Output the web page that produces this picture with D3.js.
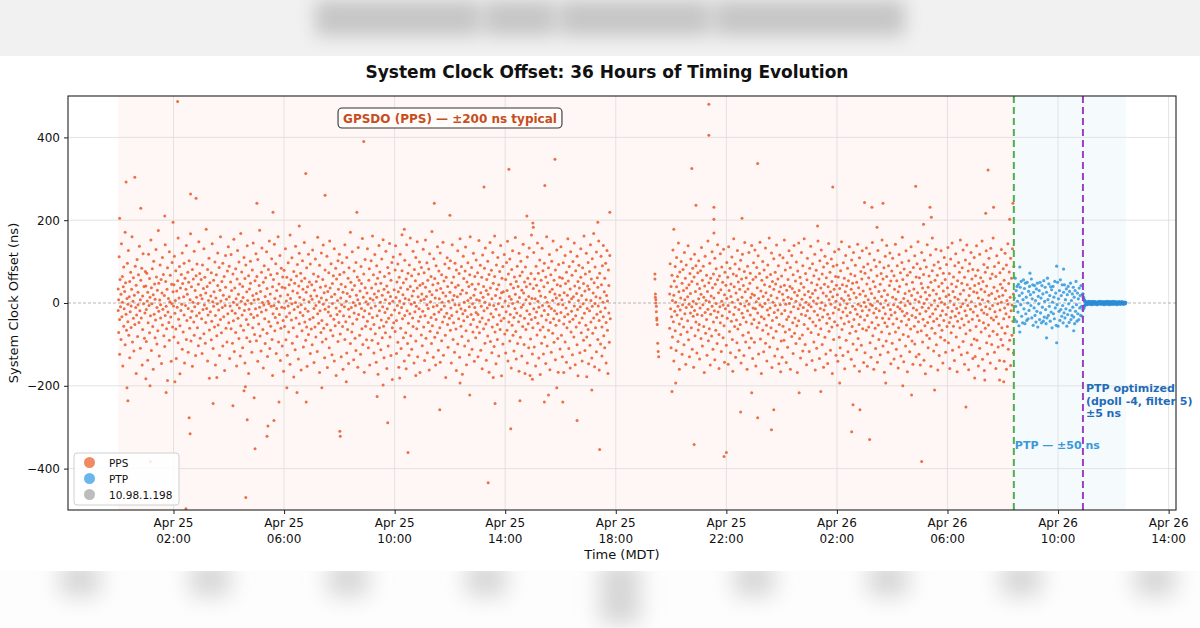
<!DOCTYPE html>
<html><head><meta charset="utf-8">
<script src="https://cdn.jsdelivr.net/npm/d3@7"></script>
<style>body{margin:0;background:#fff;}svg{display:block;font-family:"DejaVu Sans",sans-serif;}</style>
</head><body><svg id="c" width="1200" height="628"></svg>
<script>
const chartTitle = "System Clock Offset: 36 Hours of Timing Evolution";
const yLabel = "System Clock Offset (ns)";
const xLabel = "Time (MDT)";
// [minutes since Apr 25 00:00 MDT, offset ns]
const ppsCoreA = [
[0,-18],[0,34],[1,-71],[1,8],[2,112],[3,-40],[3,-124],[4,57],[5,-9],[6,21],[6,-88],[7,143],[8,-33],[9,64],[9,2],[10,-152],[11,39],[12,-56],[12,87],[13,-14],[14,28],[15,-101],[15,171],[16,49],[17,-27],[18,-66],[19,11],[20,96],[21,-45],[21,-3],[22,127],[23,-78],[24,15],[25,-132],[25,52],[26,-21],[27,74],[28,-7],[28,-59],[29,33],[30,160],[31,-94],[32,4],[33,-37],[33,61],[34,-116],[35,19],[36,-52],[37,89],[38,-11],[39,-170],[39,43],[40,-29],[41,105],[42,-81],[43,26],[43,-4],[44,68],[45,-47],[46,137],[47,-19],[48,-109],[48,8],[49,55],[50,-36],[51,84],[52,-150],[53,17],[53,-64],[54,119],[55,-2],[56,40],[57,-85],[58,-24],[59,76],
[60,41],[61,-16],[61,-93],[62,72],[63,5],[64,-138],[64,26],[65,-48],[66,118],[67,-6],[68,59],[68,-72],[69,14],[70,-31],[71,152],[72,-115],[72,37],[73,-2],[74,83],[75,-57],[76,20],[76,-160],[77,101],[78,-27],[79,46],[80,-84],[80,9],[81,-41],[82,129],[83,63],[84,-11],[84,-99],[85,31],[86,-67],[87,175],[88,-20],[88,48],[89,-128],[90,7],[91,92],[92,-36],[92,-4],[93,57],[94,-146],[95,24],[96,-53],[96,110],[97,-15],[98,69],[99,-79],[100,18],[101,-105],[102,-30],[102,141],[103,52],[104,-8],[105,-62],[106,33],[107,-187],[107,85],[108,-22],[109,11],[110,-47],[111,124],[111,-90],[112,3],[113,67],[114,-34],[115,-141],[116,45],[116,-1],[117,98],[118,-58],[119,27],
[120,-7],[121,44],[121,-82],[122,113],[123,-25],[124,6],[125,-63],[125,78],[126,-134],[127,29],[128,-10],[129,54],[130,-96],[130,157],[131,-39],[132,12],[133,88],[134,-55],[134,-171],[135,36],[136,-18],[137,69],[138,-3],[139,-112],[139,121],[140,47],[141,-70],[142,15],[143,-29],[143,96],[144,-145],[145,60],[146,-6],[147,33],[148,-88],[148,139],[149,-42],[150,21],[151,74],[152,-119],[152,-13],[153,50],[154,102],[155,-61],[156,8],[157,-35],[157,167],[158,-92],[159,39],[160,-20],[161,81],[161,-153],[162,2],[163,58],[164,-46],[165,125],[165,-78],[166,-9],[167,30],[168,-127],[169,66],[170,-31],[170,14],[171,94],[172,-60],[173,-1],[174,45],[174,-103],[175,148],[176,-24],[177,71],[178,-85],[179,19],
[180,57],[181,-38],[182,-122],[182,10],[183,92],[184,-16],[185,35],[186,-74],[186,131],[187,-5],[188,62],[189,-97],[190,24],[190,-47],[191,178],[192,-13],[193,40],[194,-140],[194,81],[195,-29],[196,6],[197,108],[198,-65],[198,-182],[199,49],[200,-21],[201,17],[202,-89],[202,73],[203,-44],[204,143],[205,3],[206,-110],[207,55],[207,-8],[208,27],[209,-58],[210,99],[211,-150],[211,-30],[212,12],[213,68],[214,-79],[215,-2],[216,121],[216,42],[217,-53],[218,-17],[219,86],[220,-127],[221,31],[222,-40],[222,160],[223,5],[224,-72],[225,52],[226,-11],[227,-104],[227,96],[228,19],[229,-33],[230,64],[231,-163],[232,-6],[233,115],[233,38],[234,-61],[235,9],[236,-94],[237,77],[238,-26],[239,136],
[240,-48],[241,15],[241,89],[242,-134],[243,-7],[244,51],[245,-62],[245,117],[246,30],[247,-19],[248,-97],[249,70],[250,2],[250,-43],[251,154],[252,-117],[253,36],[254,-25],[255,83],[255,-71],[256,10],[257,-152],[258,58],[258,-4],[259,127],[260,-37],[261,21],[262,-86],[262,99],[263,-12],[264,46],[265,-128],[266,168],[266,-55],[267,4],[268,75],[269,-29],[270,-108],[270,40],[271,13],[272,-66],[273,110],[274,-18],[275,59],[275,-145],[276,-3],[277,92],[278,-40],[279,27],[279,-84],[280,138],[281,6],[282,-52],[283,66],[283,-170],[284,-15],[285,34],[286,-93],[287,101],[287,48],[288,-27],[289,-1],[290,-119],[291,80],[292,18],[292,-60],[293,145],[294,-35],[295,7],[296,-76],[297,54],[298,-14],[299,119],
[300,-91],[300,23],[301,64],[302,-30],[303,-141],[303,105],[304,9],[305,-51],[306,42],[307,-10],[307,176],[308,-80],[309,28],[310,-116],[311,74],[311,-22],[312,133],[313,1],[314,-64],[315,50],[315,-157],[316,-5],[317,90],[318,-38],[319,16],[319,-98],[320,61],[321,-17],[322,124],[323,-73],[323,35],[324,-129],[325,4],[326,81],[327,-45],[327,-2],[328,150],[329,-110],[330,22],[331,-56],[331,68],[332,-8],[333,107],[334,-88],[335,39],[335,-175],[336,-26],[337,57],[338,-6],[339,142],[340,-67],[340,11],[341,-35],[342,95],[343,-122],[344,30],[344,-13],[345,71],[346,-48],[347,160],[348,-94],[348,3],[349,46],[350,-28],[351,115],[352,-139],[352,17],[353,-61],[354,84],[355,-10],[356,-104],[356,38],[357,63],[358,-42],[359,-165],
[360,79],[361,-12],[361,-57],[362,36],[363,131],[364,-89],[365,5],[365,-33],[366,62],[367,-126],[368,20],[369,97],[369,-7],[370,-70],[371,44],[372,-24],[373,164],[373,-148],[374,11],[375,56],[376,-41],[377,-2],[377,109],[378,-97],[379,29],[380,-60],[381,76],[381,-179],[382,-16],[383,48],[384,-113],[385,137],[385,1],[386,-36],[387,65],[388,-81],[389,24],[389,93],[390,-9],[391,-135],[392,41],[393,-50],[393,120],[394,14],[395,-23],[396,72],[397,-162],[397,-4],[398,53],[399,-67],[400,102],[401,-30],[401,33],[402,-106],[403,8],[404,146],[405,-46],[405,60],[406,-14],[407,-90],[408,26],[409,85],[409,-58],[410,-153],[411,39],[412,-20],[413,118],[413,-76],[414,3],[415,51],[416,-39],[417,-122],[417,94],[418,17],[419,-63],
[420,44],[421,-101],[421,9],[422,128],[423,-35],[424,70],[425,-13],[425,-144],[426,31],[427,-58],[428,106],[429,-6],[429,-82],[430,52],[431,17],[432,-117],[433,159],[433,-26],[434,64],[435,-49],[436,3],[437,91],[437,-168],[438,-19],[439,38],[440,-71],[441,121],[441,12],[442,-42],[443,-94],[444,57],[445,-3],[445,140],[446,-61],[447,25],[448,-132],[449,80],[449,-15],[450,41],[451,-87],[452,7],[453,113],[453,-52],[454,-156],[455,28],[456,-22],[457,73],[457,-9],[458,-108],[459,150],[460,36],[461,-66],[461,-31],[462,95],[463,15],[464,-125],[465,47],[465,-1],[466,-79],[467,66],[468,-39],[469,131],[469,-140],[470,21],[471,-55],[472,84],[473,-12],[473,-175],[474,58],[475,-28],[476,6],[477,102],[477,-93],[478,33],[479,-47],
[480,118],[481,-20],[481,69],[482,-75],[483,12],[484,-130],[484,45],[485,-4],[486,97],[487,-57],[488,26],[488,-160],[489,-31],[490,74],[491,-9],[492,141],[492,-88],[493,39],[494,-45],[495,4],[496,110],[496,-121],[497,23],[498,-64],[499,60],[500,-15],[500,-146],[501,85],[502,-33],[503,16],[504,-98],[504,171],[505,50],[506,-11],[507,-70],[508,32],[508,124],[509,-50],[510,1],[511,-137],[512,77],[512,-24],[513,42],[514,-85],[515,-6],[516,98],[516,-115],[517,19],[518,-39],[519,63],[520,-155],[520,8],[521,134],[522,-28],[523,55],[524,-78],[524,-2],[525,29],[526,-124],[527,88],[528,-13],[528,47],[529,-62],[530,156],[531,-100],[532,14],[532,-34],[533,70],[534,-167],[535,-19],[536,37],[536,105],[537,-56],[538,3],[539,-89],
[540,24],[541,-44],[541,131],[542,-3],[543,-108],[544,55],[545,-26],[545,83],[546,-150],[547,11],[548,-63],[549,102],[549,-12],[550,36],[551,-90],[552,162],[552,-35],[553,7],[554,68],[555,-121],[555,-52],[556,22],[557,117],[558,-74],[558,-7],[559,46],[560,-143],[561,90],[561,14],[562,-31],[563,60],[564,-98],[564,-172],[565,29],[566,139],[567,-19],[567,-60],[568,75],[569,2],[570,-113],[570,48],[571,-41],[572,106],[573,-84],[573,19],[574,-9],[575,153],[576,-56],[577,33],[577,-132],[578,64],[579,-23],[580,8],[580,-72],[581,125],[582,-46],[583,41],[583,-158],[584,-14],[585,86],[586,-104],[586,26],[587,-37],[588,72],[589,-1],[589,144],[590,-82],[591,16],[592,-127],[592,55],[593,-29],[594,98],[595,-60],[595,-185],[596,4],[597,111],[598,-48],[599,32],
[600,-17],[601,80],[601,-69],[602,138],[603,13],[604,-122],[604,-42],[605,51],[606,-6],[607,94],[607,-95],[608,27],[609,-155],[610,62],[610,-24],[611,5],[612,118],[613,-61],[613,37],[614,-110],[615,-11],[616,78],[616,165],[617,-38],[618,20],[619,-84],[619,49],[620,-2],[621,-140],[622,103],[622,-30],[623,11],[624,-72],[625,58],[625,-159],[626,141],[627,-19],[628,33],[628,-98],[629,72],[630,-49],[631,8],[631,-126],[632,92],[633,-26],[634,40],[634,157],[635,-79],[636,-3],[637,66],[637,-112],[638,17],[639,-36],[640,125],[640,-57],[641,29],[642,-145],[643,81],[643,1],[644,-21],[645,54],[646,-92],[646,110],[647,-8],[648,-62],[649,36],[649,148],[650,-130],[651,15],[652,-44],[652,70],[653,-14],[654,99],[655,-168],[655,43],[656,-33],[657,6],[658,86],[658,-77],[659,22],
[660,-103],[661,47],[661,-20],[662,130],[663,-58],[664,9],[664,73],[665,-139],[666,-31],[667,38],[667,152],[668,-85],[669,16],[670,-4],[670,97],[671,-120],[672,55],[673,-47],[673,-13],[674,82],[675,-162],[676,28],[676,119],[677,-68],[678,3],[679,-35],[679,64],[680,-98],[681,173],[681,20],[682,-55],[683,44],[684,-9],[684,-131],[685,107],[686,-27],[687,59],[687,-83],[688,12],[689,-150],[690,90],[690,-40],[691,31],[692,-6],[693,136],[693,-72],[694,48],[695,-114],[696,-22],[696,77],[697,10],[698,-60],[699,121],[699,-143],[700,35],[701,-16],[702,68],[702,-91],[703,2],[704,-46],[705,147],[705,25],[706,-126],[707,53],[708,-33],[708,-7],[709,94],[710,-78],[711,17],[711,-180],[712,62],[713,-25],[714,109],[715,-52],[715,40],[716,-107],[717,4],[718,84],[719,-37],
[720,26],[721,-66],[721,102],[722,-12],[723,-145],[724,49],[724,-30],[725,141],[726,7],[727,-88],[728,63],[728,-48],[729,18],[730,-119],[731,96],[731,-4],[732,38],[733,-63],[734,-163],[734,80],[735,-21],[736,15],[737,126],[737,-99],[738,43],[739,-38],[740,-5],[740,71],[741,-131],[742,155],[743,22],[744,-56],[744,-14],[745,88],[746,-81],[747,31],[747,-172],[748,-26],[749,113],[750,-43],[750,59],[751,2],[752,-104],[753,77],[753,-18],[754,135],[755,-67],[756,24],[756,-149],[757,51],[758,-33],[759,6],[759,97],[760,-91],[761,40],[762,-9],[762,-125],[763,68],[764,160],[765,-52],[765,12],[766,-28],[767,86],[768,-112],[768,45],[769,-2],[770,-70],[771,120],[771,-40],[772,19],[773,-141],[774,64],[774,-11],[775,33],[776,-84],[777,104],[777,-23],[778,8],[779,-58],
[780,73],[781,-130],[781,-28],[782,46],[783,151],[784,-72],[784,6],[785,-45],[786,91],[787,-114],[787,25],[788,-8],[789,62],[790,-159],[790,-36],[791,116],[792,14],[793,-62],[793,40],[794,-19],[795,84],[796,-97],[796,2],[797,133],[798,-51],[799,30],[799,-138],[800,57],[801,-12],[802,-80],[802,101],[803,21],[804,-41],[805,-167],[805,69],[806,-4],[807,146],[808,-93],[808,36],[809,-26],[810,79],[811,-120],[811,10],[812,-58],[813,122],[814,48],[814,-34],[815,-6],[816,-105],[817,64],[817,162],[818,-70],[819,18],[820,-147],[820,-15],[821,92],[822,33],[823,-52],[823,-88],[824,110],[825,-2],[826,44],[826,-128],[827,-29],[828,76],[829,-64],[829,12],[830,139],[831,-43],[832,25],[832,-176],[833,60],[834,-9],[835,-99],[835,88],[836,27],[837,-37],[838,117],[839,-75],
[840,5],[841,57],[841,-121],[842,-21],[843,98],[844,-66],[844,30],[845,149],[846,-140],[847,-7],[847,70],[848,-46],[849,16],[850,106],[850,-92],[851,-28],[852,45],[853,-157],[853,9],[854,81],[855,-54],[856,-1],[856,126],[857,-78],[858,36],[859,-35],[859,-116],[860,63],[861,-13],[862,158],[862,21],[863,-69],[864,-135],[864,52],[865,-24],[866,89],[867,3],[867,-98],[868,40],[869,-45],[870,120],[870,-165],[871,13],[872,66],[873,-31],[873,-83],[874,101],[875,-10],[876,31],[876,-128],[877,75],[878,-57],[879,-4],[879,142],[880,24],[881,-100],[882,51],[882,-37],[883,-170],[884,87],[885,8],[885,-64],[886,39],[887,-19],[888,111],[888,-145],[889,60],[890,-50],[891,16],[891,-108],[892,133],[893,-27],[894,46],[894,-2],[895,-87],[896,71],[897,-40],[897,164],[898,11],[899,-123],
[900,-60],[901,35],[902,-14],[902,122],[903,-106],[904,58],[905,-35],[905,10],[906,-152],[907,89],[908,-22],[908,43],[909,-77],[910,145],[911,4],[911,-49],[912,72],[913,-133],[913,-10],[914,29],[915,104],[916,-65],[916,-173],[917,17],[918,55],[919,-31],[919,-97],[920,132],[921,-6],[922,78],[922,-58],[923,-123],[924,39],[925,-18],[925,96],[926,-82],[927,14],[928,-146],[928,63],[929,-41],[930,160],[931,2],[931,-104],[932,49],[933,-28],[934,85],[934,-66],[935,-8],[936,117],[937,-161],[937,27],[938,-47],[939,68],[940,-13],[940,-119],[941,101],[942,33],[943,-73],[943,6],[944,150],[945,-38],[946,55],[946,-95],[947,-19],[948,22],[949,-137],[949,80],[950,-54],[951,12],[952,128],[952,-26],[953,44],[954,-86],[955,-3],[955,-167],[956,93],[957,-42],[958,19],[958,62],[959,-111],
[960,41],[961,-23],[961,136],[962,-78],[963,8],[964,-130],[964,60],[965,-4],[966,97],[967,-51],[967,-168],[968,25],[969,-33],[970,115],[970,-94],[971,47],[972,-12],[973,74],[973,-143],[974,-60],[975,19],[976,155],[976,-27],[977,53],[978,-110],[979,3],[979,88],[980,-45],[981,-157],[981,34],[982,124],[983,-70],[984,10],[984,-20],[985,67],[986,-125],[987,-39],[987,100],[988,15],[989,-82],[990,145],[990,-7],[991,41],[992,-149],[993,78],[993,-31],[994,-58],[995,23],[996,113],[996,-101],[997,-16],[998,52],[998,-176],[999,6],[1000,91],[1001,-48],[1001,36],[1002,-120],[1003,-9],[1004,131],[1004,62],[1005,-72],[1006,18],[1007,-36],[1007,-140],[1008,85],[1009,-2],[1010,47],[1010,-90],[1011,162],[1012,-25],[1013,29],[1013,-115],[1014,70],[1015,-54],[1016,8],[1016,120],[1017,-82],[1018,-13],[1019,41],
[1020,98],[1020,-64],[1021,-147],[1022,33],[1023,-19],[1023,76],[1024,-102],[1025,141],[1026,6],[1026,-46],[1027,58],[1028,-133],[1029,-8],[1029,107],[1030,-73],[1031,24],[1032,168],[1032,-36],[1033,49],[1034,-154],[1035,-1],[1035,87],[1036,-60],[1037,15],[1038,123],[1038,-118],[1039,-27],[1040,61],[1041,-88],[1041,38],[1042,-7],[1043,150],[1044,-42],[1044,-162],[1045,72],[1046,12],[1047,-99],[1047,-21],[1048,113],[1049,44],[1050,-58],[1050,-128],[1051,90],[1052,2],[1053,-33],[1053,139],[1054,-79],[1055,27],[1056,-108],[1056,60],[1057,-12],[1058,96],[1059,-145],[1059,-47],[1060,18],[1061,127],[1062,-66],[1062,5],[1063,-170],[1064,80],[1065,-24],[1065,42],[1066,-95],[1067,115],[1068,-38]
];
const ppsGapColumn = [[1165,70],[1165,58],[1166,22],[1166,14],[1167,8],[1167,0],[1168,-8],[1168,-21],[1169,-36],[1169,-41],[1170,-52],[1171,-97],[1172,-117],[1173,-130]];
const ppsCoreB = [
[1197,22],[1197,-61],[1198,95],[1199,-14],[1200,40],[1200,-108],[1201,-33],[1202,67],[1203,6],[1203,-82],[1204,128],[1205,-45],[1206,19],[1206,-140],[1207,53],[1208,-20],[1209,88],[1209,-67],[1210,2],[1211,-115],[1212,39],[1212,110],[1213,-29],[1214,64],[1215,-8],[1215,-93],[1216,145],[1217,27],[1218,-51],[1218,-160],[1219,75],[1220,-17],[1221,12],[1221,-76],[1222,100],[1223,-38],[1224,48],[1224,-124],[1225,-4],[1226,81],[1227,-58],[1227,30],[1228,-101],[1229,122],[1230,8],[1230,-26],[1231,60],[1232,-148],[1233,-11],[1233,92],[1234,36],[1235,-70],[1236,15],[1236,-43],[1237,138],[1238,-89],[1239,44],[1239,-3],[1240,-130],[1241,71],[1242,-24],[1242,23],[1243,106],[1244,-60],[1245,-9],[1245,52],[1246,-112],[1247,84],[1248,-32],[1248,4],[1249,-155],[1250,63],[1251,-18],[1251,118],[1252,-79],[1253,28],[1254,-46],[1254,90],[1255,-2],[1256,-121],[1257,46],[1257,-28],[1258,73],[1259,-65],
[1260,10],[1260,102],[1261,-52],[1262,-135],[1262,35],[1263,-12],[1264,78],[1265,-86],[1265,21],[1266,134],[1267,-30],[1268,55],[1268,-104],[1269,-4],[1270,89],[1271,-57],[1271,14],[1272,-168],[1273,41],[1274,-23],[1274,113],[1275,-73],[1276,6],[1277,67],[1277,-40],[1278,-126],[1279,28],[1280,150],[1280,-15],[1281,-91],[1282,49],[1283,3],[1283,-62],[1284,96],[1285,-150],[1286,-27],[1286,60],[1287,17],[1288,-80],[1289,124],[1289,-8],[1290,37],[1291,-112],[1292,70],[1292,-46],[1293,12],[1294,-19],[1295,108],[1295,-137],[1296,45],[1297,-66],[1298,-1],[1298,83],[1299,-35],[1300,-98],[1301,56],[1301,141],[1302,-22],[1303,25],[1304,-76],[1304,-158],[1305,65],[1306,-9],[1307,119],[1307,-48],[1308,32],[1309,-117],[1310,4],[1310,87],[1311,-31],[1312,50],[1313,-84],[1313,-5],[1314,130],[1315,-55],[1316,20],[1316,-143],[1317,74],[1318,-14],[1319,43],
[1320,-102],[1321,98],[1321,11],[1322,-37],[1323,62],[1324,-148],[1324,-6],[1325,136],[1326,30],[1327,-69],[1327,-21],[1328,84],[1329,-120],[1330,16],[1330,46],[1331,-44],[1332,111],[1333,-88],[1333,2],[1334,-165],[1335,70],[1336,-28],[1336,155],[1337,39],[1338,-57],[1339,-10],[1339,94],[1340,-131],[1341,24],[1342,-41],[1342,66],[1343,-96],[1344,127],[1345,8],[1345,-63],[1346,51],[1347,-16],[1348,-114],[1348,82],[1349,33],[1350,-52],[1351,103],[1351,-2],[1352,-145],[1353,58],[1354,-25],[1354,14],[1355,118],[1356,-78],[1357,42],[1357,-35],[1358,-127],[1359,76],[1360,-7],[1360,146],[1361,27],[1362,-94],[1363,61],[1363,-46],[1364,5],[1365,-160],[1366,89],[1366,-19],[1367,34],[1368,-71],[1369,122],[1369,-3],[1370,-108],[1371,48],[1372,-29],[1372,72],[1373,13],[1374,-85],[1375,139],[1375,-50],[1376,22],[1377,-134],[1378,57],[1378,-12],[1379,97],
[1380,-40],[1381,19],[1381,-95],[1382,128],[1383,-14],[1384,63],[1384,-152],[1385,3],[1386,86],[1387,-59],[1387,37],[1388,-24],[1389,114],[1390,-123],[1390,11],[1391,-48],[1392,71],[1393,-5],[1393,147],[1394,-87],[1395,29],[1396,-170],[1396,-33],[1397,55],[1398,-9],[1399,100],[1399,-66],[1400,16],[1401,-118],[1402,80],[1402,-38],[1403,44],[1404,-1],[1405,133],[1405,-97],[1406,25],[1407,-54],[1408,62],[1408,-140],[1409,-17],[1410,92],[1411,8],[1411,-75],[1412,-29],[1413,157],[1414,40],[1414,-106],[1415,-12],[1416,69],[1417,-60],[1417,18],[1418,121],[1419,-156],[1420,-42],[1420,52],[1421,2],[1422,-84],[1423,107],[1423,33],[1424,-23],[1425,-128],[1426,74],[1426,-6],[1427,46],[1428,-68],[1429,140],[1429,-35],[1430,12],[1431,-111],[1432,58],[1432,-17],[1433,90],[1434,-147],[1435,27],[1435,-52],[1436,116],[1437,-4],[1438,39],[1439,-92],
[1440,65],[1440,-26],[1441,-131],[1442,21],[1443,109],[1443,-56],[1444,7],[1445,-90],[1446,43],[1446,152],[1447,-18],[1448,-70],[1448,80],[1449,-3],[1450,-144],[1451,31],[1451,-40],[1452,97],[1453,-107],[1454,14],[1454,57],[1455,-33],[1456,126],[1457,-64],[1457,-1],[1458,40],[1459,-160],[1459,86],[1460,-22],[1461,10],[1462,-81],[1462,115],[1463,35],[1464,-48],[1465,-122],[1465,68],[1466,-9],[1467,139],[1468,-73],[1468,26],[1469,-36],[1470,53],[1471,-98],[1471,4],[1472,99],[1473,-55],[1474,18],[1474,-168],[1475,77],[1476,-14],[1477,145],[1477,-43],[1478,30],[1479,-86],[1480,62],[1480,-5],[1481,-133],[1482,47],[1483,-27],[1483,122],[1484,9],[1485,-77],[1486,90],[1486,-116],[1487,-11],[1488,38],[1489,-52],[1489,155],[1490,20],[1491,-100],[1492,71],[1492,-30],[1493,2],[1494,-149],[1495,56],[1496,-19],[1496,108],[1497,-62],[1498,28],[1499,-4],
[1500,-117],[1501,84],[1501,-37],[1502,14],[1503,137],[1504,-71],[1504,-9],[1505,49],[1506,-139],[1507,23],[1507,95],[1508,-46],[1509,5],[1510,-94],[1510,66],[1511,-20],[1512,118],[1513,-162],[1513,31],[1514,-55],[1515,79],[1516,-2],[1516,-109],[1517,44],[1518,-29],[1519,150],[1519,12],[1520,-76],[1521,58],[1522,-41],[1522,-134],[1523,102],[1524,-13],[1525,36],[1525,-62],[1526,128],[1527,1],[1528,-100],[1528,70],[1529,-34],[1530,24],[1531,-155],[1531,87],[1532,-17],[1533,45],[1534,-83],[1534,113],[1535,-6],[1536,-123],[1537,61],[1537,17],[1538,-49],[1539,96],[1540,-27],[1540,-146],[1541,39],[1542,144],[1543,-68],[1543,8],[1544,-37],[1545,74],[1546,-114],[1546,27],[1547,-3],[1548,106],[1549,-58],[1549,52],[1550,-170],[1551,15],[1552,-24],[1552,89],[1553,-88],[1554,33],[1555,124],[1555,-45],[1556,-11],[1557,64],[1558,-126],[1558,4],[1559,43],
[1560,92],[1561,-54],[1561,20],[1562,-141],[1563,63],[1564,-16],[1564,130],[1565,-83],[1566,35],[1567,-4],[1567,-108],[1568,78],[1569,-36],[1570,11],[1570,148],[1571,-64],[1572,44],[1573,-127],[1573,-22],[1574,97],[1575,6],[1576,-50],[1576,60],[1577,-159],[1578,27],[1579,-12],[1579,115],[1580,-90],[1581,41],[1582,-31],[1582,-2],[1583,84],[1584,-118],[1585,54],[1585,18],[1586,-45],[1587,136],[1588,-73],[1588,9],[1589,-23],[1590,70],[1591,-136],[1591,33],[1592,104],[1593,-57],[1594,-8],[1594,48],[1595,-99],[1596,122],[1597,24],[1597,-40],[1598,-152],[1599,66],[1600,-15],[1600,91],[1601,-68],[1602,13],[1603,-113],[1603,50],[1604,-27],[1605,142],[1606,-3],[1606,-86],[1607,37],[1608,-52],[1609,109],[1609,-165],[1610,21],[1611,-33],[1612,76],[1612,-7],[1613,-102],[1614,58],[1615,-19],[1615,126],[1616,-62],[1617,29],[1618,-144],[1618,87],[1619,2],
[1620,-41],[1621,72],[1621,-120],[1622,17],[1623,-9],[1624,133],[1624,-66],[1625,46],[1626,-30],[1626,-153],[1627,94],[1628,8],[1629,-58],[1629,61],[1630,-17],[1631,119],[1632,-96],[1632,34],[1633,-3],[1634,-131],[1634,80],[1635,23],[1636,-47],[1637,-6],[1637,146],[1638,-79],[1639,52],[1640,-24],[1640,-160],[1641,104],[1642,12],[1643,-61],[1643,39],[1644,-110],[1645,88],[1645,-13],[1646,-35],[1647,66],[1648,-143],[1648,4],[1649,127],[1650,-53],[1651,28],[1651,-88],[1652,-19],[1653,99],[1654,-125],[1654,45],[1655,-2],[1656,71],[1657,-70],[1657,16],[1658,152],[1659,-37],[1660,-104],[1660,58],[1661,-11],[1662,85],[1663,-167],[1663,30],[1664,-48],[1665,113],[1665,-26],[1666,6],[1667,-92],[1668,64],[1668,139],[1669,-57],[1670,20],[1671,-119],[1671,-5],[1672,90],[1673,-38],[1674,42],[1674,-74],[1675,121],[1676,-16],[1677,-147],[1677,53],[1678,-29],[1679,77],
[1680,-97],[1681,14],[1681,108],[1682,-51],[1683,-4],[1684,66],[1684,-135],[1685,33],[1686,-23],[1687,142],[1687,-70],[1688,9],[1689,-112],[1690,54],[1690,-38],[1691,90],[1692,-9],[1693,-157],[1693,27],[1694,-60],[1695,117],[1696,40],[1696,-89],[1697,-14],[1698,73],[1699,-128],[1699,2],[1700,-44],[1701,98],[1702,-20],[1702,159],[1703,57],[1704,-76],[1705,11],[1705,-142],[1706,82],[1707,-31],[1708,23],[1708,-6],[1709,-104],[1710,126],[1711,-53],[1711,45],[1712,-25],[1713,-166],[1713,67],[1714,5],[1715,-81],[1716,102],[1716,-40],[1717,29],[1718,-118],[1719,74],[1719,-2],[1720,-63],[1721,136],[1722,18],[1723,-92],[1723,-30],[1724,50],[1725,-148],[1726,86],[1726,-12],[1727,34],[1728,-56],[1729,114],[1729,-99],[1730,8],[1731,-35],[1732,63],[1732,-130],[1733,-17],[1734,95],[1735,-70],[1735,25],[1736,148],[1737,-45],[1738,-124],[1738,3],[1739,61],
[1740,-26],[1741,83],[1741,-150],[1742,15],[1743,-67],[1743,47],[1744,122],[1745,-10],[1746,-94],[1746,36],[1747,-39],[1748,69],[1749,-138],[1749,-1],[1750,103],[1751,-55],[1752,26],[1752,-171],[1753,-20],[1754,87],[1755,-78],[1755,9],[1756,141],[1757,-47],[1758,38],[1758,-108],[1759,-12],[1760,65],[1761,-86],[1761,19],[1762,-33],[1763,116],[1764,-153],[1764,50],[1765,-5],[1766,-61],[1767,78],[1767,157],[1768,-26],[1769,31],[1770,-116],[1770,-44],[1771,92],[1772,6],[1773,-73],[1773,55],[1774,-15],[1775,130],[1776,-101],[1776,22],[1777,-38],[1778,67],[1779,-162],[1779,-7],[1780,99],[1781,40],[1782,-54],[1782,-127],[1783,11],[1784,84],[1785,-30],[1785,-83],[1786,126],[1787,2],[1788,-66],[1788,48],[1789,-19],[1790,-145],[1791,72],[1791,29],[1792,-42],[1793,110],[1794,-90],[1794,-3],[1795,57],[1796,-119],[1797,16],[1797,-28],[1798,93],[1799,-57],
[1800,37],[1801,-11],[1801,134],[1802,-96],[1803,20],[1804,-47],[1804,71],[1805,-158],[1806,5],[1807,106],[1807,-35],[1808,-72],[1809,46],[1810,-20],[1810,145],[1811,-114],[1812,28],[1813,-56],[1813,63],[1814,-4],[1815,-139],[1816,90],[1816,14],[1817,-32],[1818,119],[1819,-82],[1819,39],[1820,-13],[1821,-166],[1822,54],[1822,-44],[1823,9],[1824,98],[1825,-106],[1825,-24],[1826,74],[1827,-60],[1828,152],[1828,22],[1829,-9],[1830,-125],[1831,48],[1831,-38],[1832,85],[1833,-2],[1834,-93],[1834,128],[1835,31],[1836,-53],[1837,-148],[1837,62],[1838,-19],[1839,104],[1840,7],[1840,-74],[1841,-30],[1842,140],[1843,-120],[1843,44],[1844,-6],[1845,77],[1846,-161],[1846,-45],[1847,18],[1848,95],[1849,-66],[1849,35],[1850,-15],[1851,122],[1852,-101],[1852,3],[1853,58],[1854,-39],[1855,-134],[1855,81],[1856,-22],[1857,27],[1858,-87],[1858,110],[1859,42],
[1860,-129],[1861,66],[1861,-8],[1862,-57],[1863,138],[1864,25],[1864,-90],[1865,-31],[1866,79],[1867,-152],[1867,12],[1868,47],[1869,-42],[1870,118],[1870,-109],[1871,-3],[1872,61],[1873,-70],[1873,33],[1874,-17],[1875,150],[1876,-136],[1876,8],[1877,52],[1878,-48],[1879,93],[1879,-24],[1880,-163],[1881,27],[1882,74],[1882,-61],[1883,-9],[1884,126],[1885,-96],[1885,41],[1886,-28],[1887,-123],[1887,86],[1888,4],[1889,-53],[1890,108],[1890,19],[1891,-80],[1892,-14],[1893,59],[1893,-145],[1894,132],[1895,-36],[1896,23],[1896,-100],[1897,70],[1898,-6],[1899,-68],[1899,157],[1900,-41],[1901,38],[1902,-119],[1902,88],[1903,-21],[1904,10],[1905,-158],[1905,64],[1906,-33],[1907,114],[1908,-76],[1908,29],[1909,-2],[1910,-106],[1911,97],[1911,-50],[1912,16],[1913,-139],[1914,73],[1914,-17],[1915,45],[1916,-88],[1917,129],[1917,2],[1918,-60],[1919,36],
[1920,-102],[1920,19],[1921,83],[1922,-38],[1923,-141],[1923,55],[1924,-12],[1925,120],[1925,-73],[1926,30],[1927,-26],[1928,-160],[1928,92],[1929,6],[1930,-57],[1931,143],[1931,-3],[1932,-112],[1933,47],[1934,-34],[1934,75],[1935,-90],[1936,14],[1937,-151],[1937,108],[1938,-19],[1939,60],[1940,-78],[1940,-5],[1941,131],[1942,-44],[1943,22],[1943,-121],[1944,88]
];
const ppsSpikes = [
[3,205],[17,292],[19,-205],[21,-236],[36,304],[49,229],[60,-183],[69,-200],[70,-383],[101,210],[104,-216],[119,195],[123,-190],[129,487],[147,-497],[154,-277],[156,-316],[157,263],[169,253],[206,-243],[214,-180],[249,-248],[273,-212],[276,-202],[277,-470],[280,-282],[295,-229],[297,-352],[301,241],[323,-322],[325,-297],[336,219],[338,-284],[349,-239],[366,-205],[388,-216],[393,186],[407,313],[408,-239],[442,-205],[449,260],[481,-310],[482,-322],[495,-190],[518,219],[533,390],[562,-226],[575,-198],[585,-289],[611,-181],[621,178],[622,-227],[629,-361],[646,-175],[686,241],[698,-258],[720,212],[742,-193],[763,-222],[794,280],[803,-434],[814,-180],[818,-243],[848,323],[852,-304],[872,-236],[887,210],[894,-175],[899,-184],[900,193],[901,183],[925,-239],[926,284],[934,-222],[948,347],[952,-205],[965,-239],[996,-284],[1017,-178],[1028,-210],[1041,195],[1045,-354],[1054,505],[1067,219],[1069,505],
[1176,505],[1195,505],[1200,-505],[1202,-214],[1206,178],[1210,-193],[1245,325],[1250,-342],[1254,236],[1282,480],[1282,405],[1293,231],[1293,202],[1293,169],[1315,-371],[1320,-361],[1334,505],[1351,-263],[1354,205],[1361,-505],[1375,-217],[1388,-277],[1388,337],[1391,-505],[1418,-306],[1423,-258],[1438,-166],[1478,-217],[1518,186],[1525,-214],[1551,280],[1566,-193],[1592,-311],[1595,-246],[1610,-258],[1620,243],[1631,-330],[1636,231],[1647,183],[1660,241],[1666,-193],[1703,-200],[1722,-222],[1731,282],[1744,-383],[1748,190],[1762,231],[1765,207],[1772,-210],[1840,-251],[1859,-181],[1881,-186],[1883,217],[1888,321],[1900,231],[1913,-186],[1922,-190],[1935,202],[1942,241]
];
const ptpData = [
[1945,12],[1946,-40],[1947,60],[1948,-8],[1949,30],[1950,-45],[1951,40],[1952,4],[1953,-22],[1954,45],[1955,-55],[1956,18],[1957,87],[1957,-70],[1958,38],[1959,-4],[1960,52],[1961,-32],[1962,24],[1963,-48],[1964,8],[1965,56],[1966,-14],[1967,35],[1968,-50],[1969,48],[1970,-26],[1971,14],[1972,-42],[1973,50],[1974,0],[1975,-38],[1976,28],[1977,-18],[1978,40],[1979,72],[1980,20],[1981,-6],[1982,58],[1983,-36],[1984,10],[1985,44],[1986,-54],[1987,26],[1988,-12],[1989,42],[1990,-30],[1991,6],[1992,-46],[1993,34],[1994,-20],[1995,48],[1996,-58],[1997,16],[1998,-2],[1999,30],[2000,-40],[2001,50],[2002,-24],[2003,12],[2004,-48],[2005,42],[2006,-10],[2007,22],[2008,-44],[2009,54],[2010,-34],[2011,4],[2012,38],[2013,-16],[2014,-50],[2015,-84],[2015,26],[2016,-36],[2017,60],[2018,8],[2019,-30],[2020,46],[2021,-8],[2022,18],[2023,-44],[2024,39],[2025,-22],[2026,32],[2027,-60],[2028,2],[2029,40],[2030,-26],[2031,14],[2032,-38],[2033,52],[2034,-12],[2035,24],[2036,-54],[2037,89],[2037,-96],[2038,-4],[2039,50],[2040,-56],[2041,10],[2042,-20],[2043,30],[2044,-42],[2045,56],[2046,-16],[2047,18],[2048,-32],[2049,44],[2050,-6],[2051,-48],[2052,82],[2052,26],[2053,-24],[2054,44],[2055,-36],[2056,8],[2057,-14],[2058,34],[2059,-56],[2060,20],[2061,-28],[2062,40],[2063,-2],[2064,-47],[2065,28],[2066,-18],[2067,48],[2068,-40],[2069,6],[2070,-30],[2071,22],[2072,-10],[2073,38],[2074,-67],[2074,-34],[2075,14],[2076,-50],[2077,30],[2078,-20],[2079,52],[2080,-4],[2081,-44],[2082,24],[2083,-26],[2084,10],[2085,-40],[2086,36],[2087,-12],[2088,18],[2089,-30],[2090,42],[2091,-8],[2092,-32],[2093,20]
];
const ptpOptData = [
[2094,22],[2094,-16],[2095,14],[2095,-9],[2096,9],[2096,-12],[2097,6],[2097,-7],[2098,4],[2099,-5],[2100,3],[2101,-3],[2102,2],[2103,-4],[2104,1],[2105,3],[2106,-2],[2107,0],[2108,4],[2109,-3],[2110,2],[2111,-1],[2112,3],[2113,-4],[2114,1],[2115,-2],[2116,4],[2117,0],[2118,-3],[2119,2],[2120,-1],[2121,3],[2122,-2],[2123,1],[2124,-4],[2125,2],[2126,0],[2127,-3],[2128,3],[2129,-1],[2130,2],[2131,-2],[2132,4],[2133,0],[2134,-3],[2135,1],[2136,-1],[2137,3],[2138,-2],[2139,2],[2140,-4],[2141,1],[2142,3],[2143,-2],[2144,0],[2145,2],[2146,-3],[2147,4],[2148,-1],[2149,1],[2150,-2],[2151,3],[2152,-4],[2153,0],[2154,2],[2155,-1],[2156,3],[2157,-3],[2158,1],[2159,-2],[2160,4],[2161,0],[2162,-3],[2163,2],[2164,-1],[2165,3],[2166,-2],[2167,1],[2168,-4],[2169,2],[2170,0],[2171,-2],[2172,3],[2173,-1],[2174,2],[2175,-3],[2176,1],[2177,-1],[2178,3],[2179,-2],[2180,0],[2181,2],[2182,-3],[2183,1],[2184,-1],[2185,2],[2186,-2],[2187,1]
];
const phaseBounds = [0, 1944, 2094, 2187];
const xDomainMinutes = [-109, 2296];
const yDomain = [-500, 500];
const yTicks = [-400, -200, 0, 200, 400];
const xTickMinutes = [120, 360, 600, 840, 1080, 1320, 1560, 1800, 2040, 2280];
const legendLabels = ["PPS", "PTP", "10.98.1.198"];
const legendColors = ["#f08a62", "#6cb6ee", "#bdbdbd"];
const boxNote = "GPSDO (PPS) \u2014 \u00b1200 ns typical";
const ptpNote = "PTP \u2014 \u00b150 ns";
const optNote = ["PTP optimized", "(dpoll -4, filter 5)", "\u00b15 ns"];

const ppsData = ppsCoreA.concat(ppsGapColumn, ppsCoreB, ppsSpikes);

const svg = d3.select("#c");
const L = 68, R = 1176, T = 96, B = 510;
const base = Date.UTC(2025, 3, 25, 0, 0);
const toDate = m => new Date(base + m * 60000);
const x = d3.scaleUtc().domain(xDomainMinutes.map(toDate)).range([L, R]);
const y = d3.scaleLinear().domain(yDomain).range([B, T]);

const defs = svg.append("defs");
function blurFilter(id, sd) {
  defs.append("filter").attr("id", id).attr("x", "-50%").attr("y", "-50%").attr("width", "200%").attr("height", "200%")
    .append("feGaussianBlur").attr("stdDeviation", sd);
}
blurFilter("blur", 9); blurFilter("blur2", 11);
defs.append("clipPath").attr("id", "topClip").append("rect").attr("x", 0).attr("y", 0).attr("width", 1200).attr("height", 56);
defs.append("clipPath").attr("id", "botClip").append("rect").attr("x", 0).attr("y", 571).attr("width", 1200).attr("height", 57);
defs.append("clipPath").attr("id", "plotClip").append("rect").attr("x", L).attr("y", T).attr("width", R - L).attr("height", B - T);

const topG = svg.append("g").attr("clip-path", "url(#topClip)");
topG.append("rect").attr("x", 0).attr("y", 0).attr("width", 1200).attr("height", 56).attr("fill", "#f1f1f1");
const topBlur = topG.append("g").attr("filter", "url(#blur)");
[[315, 0, 165, 36], [485, 0, 70, 36], [560, 0, 150, 36], [715, 0, 190, 36]].forEach(r =>
  topBlur.append("rect").attr("x", r[0]).attr("y", r[1]).attr("width", r[2]).attr("height", r[3]).attr("fill", "#c6c6c6"));

const botG = svg.append("g").attr("clip-path", "url(#botClip)");
botG.append("rect").attr("x", 0).attr("y", 571).attr("width", 1200).attr("height", 57).attr("fill", "#fdfdfd");
const botBlur = botG.append("g").attr("filter", "url(#blur2)");
[80, 210, 348, 486, 620, 754, 888, 1021, 1155].forEach((cx, i) => {
  botBlur.append("rect").attr("x", cx - 20).attr("y", 562).attr("width", 40).attr("height", i === 4 ? 62 : 34).attr("fill", "#d6d6d6");
});

svg.append("text").attr("x", 607).attr("y", 78).attr("text-anchor", "middle")
  .attr("font-size", 17).attr("font-weight", "bold").attr("fill", "#111").text(chartTitle);

const phaseFill = ["#e8643c", "#3498db", "#3498db"];
const plotG = svg.append("g");
for (let i = 0; i < 3; i++) {
  plotG.append("rect").attr("x", x(toDate(phaseBounds[i]))).attr("y", T)
    .attr("width", x(toDate(phaseBounds[i + 1])) - x(toDate(phaseBounds[i]))).attr("height", B - T)
    .attr("fill", phaseFill[i]).attr("opacity", 0.05);
}
xTickMinutes.forEach(m => plotG.append("line").attr("x1", x(toDate(m))).attr("x2", x(toDate(m)))
  .attr("y1", T).attr("y2", B).attr("stroke", "#dcdcdc").attr("stroke-width", 0.8));
yTicks.filter(v => v !== 0).forEach(v => plotG.append("line").attr("x1", L).attr("x2", R)
  .attr("y1", y(v)).attr("y2", y(v)).attr("stroke", "#dcdcdc").attr("stroke-width", 0.8));
plotG.append("line").attr("x1", L).attr("x2", R).attr("y1", y(0)).attr("y2", y(0))
  .attr("stroke", "#9a9a9a").attr("stroke-width", 0.7).attr("stroke-dasharray", "3,2");

const ptsG = svg.append("g").attr("clip-path", "url(#plotClip)");
function drawPts(data, color, r, op) {
  ptsG.append("g").selectAll("circle").data(data).join("circle")
    .attr("cx", d => x(toDate(d[0]))).attr("cy", d => y(d[1])).attr("r", r)
    .attr("fill", color).attr("fill-opacity", op);
}
drawPts(ppsData, "#e8582a", 1.5, 0.85);
drawPts(ptpData, "#3196dc", 1.6, 0.85);
drawPts(ptpOptData, "#2b8cd6", 1.7, 0.9);

svg.append("line").attr("x1", x(toDate(phaseBounds[1]))).attr("x2", x(toDate(phaseBounds[1])))
  .attr("y1", T).attr("y2", B).attr("stroke", "#4cb050").attr("stroke-width", 2).attr("stroke-dasharray", "7,4");
svg.append("line").attr("x1", x(toDate(phaseBounds[2]))).attr("x2", x(toDate(phaseBounds[2])))
  .attr("y1", T).attr("y2", B).attr("stroke", "#9c3fc2").attr("stroke-width", 2).attr("stroke-dasharray", "7,4");

svg.append("rect").attr("x", L).attr("y", T).attr("width", R - L).attr("height", B - T)
  .attr("fill", "none").attr("stroke", "#222").attr("stroke-width", 1.1);

const yAx = svg.append("g").attr("transform", `translate(${L},0)`)
  .call(d3.axisLeft(y).tickValues(yTicks).tickSize(4).tickPadding(4));
yAx.select(".domain").remove();
yAx.selectAll("text").attr("font-size", 12).attr("font-family", "DejaVu Sans").attr("fill", "#111");
yAx.selectAll("line").attr("stroke", "#222");

const xAx = svg.append("g").attr("transform", `translate(0,${B})`)
  .call(d3.axisBottom(x).tickValues(xTickMinutes.map(toDate)).tickSize(4).tickFormat(""));
xAx.select(".domain").remove();
xAx.selectAll("line").attr("stroke", "#222");
const fmtD = d3.utcFormat("%b %d"), fmtT = d3.utcFormat("%H:%M");
xTickMinutes.forEach(m => {
  const t = svg.append("text").attr("text-anchor", "middle").attr("font-size", 12).attr("fill", "#111");
  t.append("tspan").attr("x", x(toDate(m))).attr("y", 527).text(fmtD(toDate(m)));
  t.append("tspan").attr("x", x(toDate(m))).attr("y", 543).text(fmtT(toDate(m)));
});
svg.append("text").attr("x", (L + R) / 2).attr("y", 559).attr("text-anchor", "middle")
  .attr("font-size", 13).attr("fill", "#111").text(xLabel);
svg.append("text").attr("transform", `translate(18,${(T + B) / 2}) rotate(-90)`).attr("text-anchor", "middle")
  .attr("font-size", 13).attr("fill", "#111").text(yLabel);

// annotation box
const ag = svg.append("g");
const bt = ag.append("text").attr("x", 450).attr("y", 122.5).attr("text-anchor", "middle")
  .attr("font-size", 12).attr("font-weight", "bold").attr("fill", "#c64d1e").text(boxNote);
const bb = bt.node().getBBox();
ag.insert("rect", "text").attr("x", bb.x - 5).attr("y", 108).attr("width", bb.width + 10).attr("height", 20)
  .attr("rx", 4).attr("fill", "#fffcfa").attr("fill-opacity", 0.9).attr("stroke", "#333").attr("stroke-width", 1.1);

svg.append("text").attr("x", x(toDate(phaseBounds[1])) + 1).attr("y", 449).attr("font-size", 11)
  .attr("font-weight", "bold").attr("fill", "#3a9ad9").text(ptpNote);
const on = svg.append("text").attr("font-size", 11).attr("font-weight", "bold").attr("fill", "#1f6db8");
optNote.forEach((s, i) => on.append("tspan").attr("x", x(toDate(phaseBounds[2])) + 3).attr("y", 392 + i * 12.7).text(s));

const lg = svg.append("g");
lg.append("rect").attr("x", 74).attr("y", 453).attr("width", 105).attr("height", 52).attr("rx", 3)
  .attr("fill", "#fff").attr("fill-opacity", 0.85).attr("stroke", "#d0d0d0").attr("stroke-width", 1);
legendLabels.forEach((s, i) => {
  lg.append("circle").attr("cx", 89.5).attr("cy", 462.5 + i * 16).attr("r", 5.5).attr("fill", legendColors[i]);
  lg.append("text").attr("x", 109).attr("y", 466.5 + i * 16).attr("font-size", 10.5).attr("fill", "#111").text(s);
});
</script></body></html>
